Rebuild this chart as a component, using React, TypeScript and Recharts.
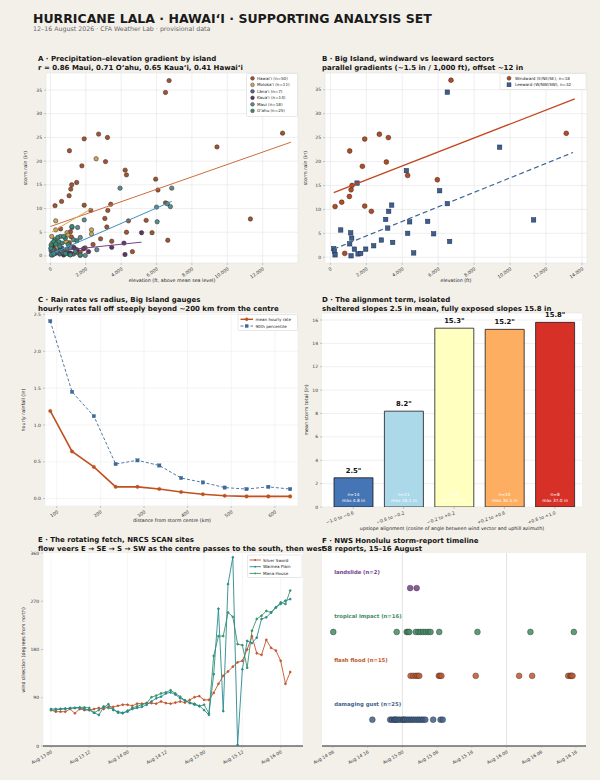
import React from 'react';
import {
  ScatterChart, Scatter, XAxis, YAxis, CartesianGrid, LineChart, Line,
  BarChart, Bar, Cell, LabelList, ReferenceLine,
} from 'recharts';

const FONT = '"DejaVu Sans", Verdana, sans-serif';
const BG = '#f3f0ea';
const PAD = 8; // extra room above each plot so top tick labels are not clipped

// ---------- Panel A / B : elevation vs storm rain ----------
const elevTicks = [0, 2000, 4000, 6000, 8000, 10000, 12000];
const elevTicksB = [0, 2000, 4000, 6000, 8000, 10000, 12000, 14000];
const rainTicks = [0, 5, 10, 15, 20, 25, 30, 35];

const windward = [
  { x: 260, y: 10.6 }, { x: 630, y: 11.5 }, { x: 1057, y: 12.7 }, { x: 1150, y: 14.1 },
  { x: 1205, y: 15.0 }, { x: 1075, y: 22.2 }, { x: 1780, y: 19.0 }, { x: 1910, y: 24.7 },
  { x: 1910, y: 10.7 }, { x: 2280, y: 9.6 }, { x: 2725, y: 25.7 }, { x: 3226, y: 25.0 },
  { x: 3115, y: 19.9 }, { x: 4300, y: 17.1 }, { x: 5951, y: 16.2 }, { x: 6711, y: 37.0 },
  { x: 13126, y: 25.9 }, { x: 797, y: 0.8 },
];
const leeward = [
  { x: 185, y: 1.8 }, { x: 222, y: 1.3 }, { x: 260, y: 0.5 }, { x: 575, y: 5.7 },
  { x: 1131, y: 5.1 }, { x: 1187, y: 4.0 }, { x: 1075, y: 2.8 }, { x: 1150, y: 0.3 },
  { x: 1335, y: 1.7 }, { x: 1483, y: 15.5 }, { x: 1539, y: 0.7 }, { x: 1687, y: 0.8 },
  { x: 1965, y: 1.7 }, { x: 2410, y: 2.4 }, { x: 2836, y: 3.6 }, { x: 3078, y: 7.9 },
  { x: 3189, y: 6.1 }, { x: 3245, y: 9.6 }, { x: 3411, y: 10.9 }, { x: 3467, y: 3.1 },
  { x: 4227, y: 18.1 }, { x: 4412, y: 7.4 }, { x: 4301, y: 5.0 }, { x: 4635, y: 0.9 },
  { x: 5414, y: 7.5 }, { x: 5747, y: 4.9 }, { x: 6081, y: 13.9 }, { x: 6507, y: 34.5 },
  { x: 6507, y: 11.2 }, { x: 6637, y: 3.3 }, { x: 9418, y: 23.0 }, { x: 11309, y: 7.8 },
];
const windFit = [{ x: 185, y: 13.5 }, { x: 13600, y: 33.1 }];
const leeFit = [{ x: 185, y: 1.7 }, { x: 13500, y: 21.9 }];

const hawaiiPts = [...windward, ...leeward];
const hawaiiFit = [{ x: 0, y: 6.2 }, { x: 13600, y: 24.0 }];
const molokaiPts = [
  { x: 300, y: 7.4 }, { x: 300, y: 5.5 }, { x: 2586, y: 20.5 }, { x: 2324, y: 5.5 },
  { x: 2324, y: 4.6 }, { x: 937, y: 4.9 }, { x: 993, y: 4.4 }, { x: 880, y: 3.0 },
  { x: 75, y: 4.1 }, { x: 375, y: 2.0 }, { x: 112, y: 2.7 },
];
const molokaiFit = [{ x: 94, y: 5.1 }, { x: 2343, y: 10.0 }];
const lanaiPts = [
  { x: 37, y: 1.1 }, { x: 112, y: 0.2 }, { x: 525, y: 0.4 }, { x: 656, y: 1.6 },
  { x: 337, y: 0.7 }, { x: 1031, y: 0.4 }, { x: 1312, y: 0.4 },
];
const kauaiPts = [
  { x: 5153, y: 4.9 }, { x: 4160, y: 2.7 }, { x: 4216, y: 0.3 }, { x: 3467, y: 1.8 },
  { x: 2155, y: 0.9 }, { x: 1874, y: 1.5 }, { x: 1312, y: 1.8 }, { x: 1124, y: 0.6 },
  { x: 187, y: 0.9 }, { x: 562, y: 1.3 }, { x: 750, y: 0.2 }, { x: 94, y: 2.0 },
  { x: 1500, y: 1.3 }, { x: 937, y: 0.9 },
];
const kauaiFit = [{ x: 0, y: 0.9 }, { x: 5150, y: 2.9 }];
const mauiPts = [
  { x: 3937, y: 14.3 }, { x: 6000, y: 10.3 }, { x: 6035, y: 7.2 }, { x: 6617, y: 11.0 },
  { x: 6786, y: 10.4 }, { x: 6860, y: 14.3 }, { x: 1218, y: 6.0 }, { x: 1537, y: 6.0 },
  { x: 1911, y: 7.6 }, { x: 1312, y: 3.4 }, { x: 1687, y: 3.9 }, { x: 1968, y: 0.1 },
  { x: 1687, y: 0.1 }, { x: 562, y: 4.1 }, { x: 187, y: 1.3 }, { x: 750, y: 0.6 },
  { x: 1124, y: 2.0 }, { x: 2624, y: 1.3 },
];
const mauiFit = [{ x: 37, y: 0.4 }, { x: 6860, y: 11.5 }];
const oahuPts = [
  { x: 1218, y: 6.2 }, { x: 243, y: 3.4 }, { x: 412, y: 3.9 }, { x: 187, y: 3.0 },
  { x: 656, y: 2.7 }, { x: 843, y: 3.7 }, { x: 37, y: 2.3 }, { x: 112, y: 1.3 },
  { x: 375, y: 0.9 }, { x: 525, y: 2.0 }, { x: 937, y: 1.4 }, { x: 1124, y: 0.2 },
  { x: 1405, y: 0.9 }, { x: 1687, y: 0.2 }, { x: 56, y: 0.2 }, { x: 187, y: 0.4 },
  { x: 712, y: 0.7 }, { x: 468, y: 3.0 }, { x: 750, y: 4.1 }, { x: 20, y: 1.6 },
  { x: 300, y: 2.5 }, { x: 600, y: 1.1 }, { x: 1000, y: 2.4 }, { x: 1500, y: 3.2 },
  { x: 850, y: 0.5 },
];

const islandNames = ['Hawaiʻi', 'Molokaʻi', 'Lānaʻi', 'Kauaʻi', 'Maui', 'Oʻahu'];
const islandPoints = [hawaiiPts, molokaiPts, lanaiPts, kauaiPts, mauiPts, oahuPts];
const islandColors = ['#a5532f', '#c9a45a', '#56648c', '#5c3566', '#5b8c8e', '#3b8a76'];
const islandFits = [hawaiiFit, molokaiFit, null, kauaiFit, mauiFit, null];
const fitColors = ['#cf6c3a', '#d9a552', '', '#7a3f8f', '#3f8fbf', ''];

// ---------- Panel C : rain rate vs radius ----------
const radiusKm = [85, 135, 185, 235, 285, 335, 385, 435, 485, 535, 585, 635];
const meanRate = [1.19, 0.64, 0.43, 0.16, 0.16, 0.13, 0.09, 0.06, 0.04, 0.03, 0.03, 0.03];
const p90Rate = [2.41, 1.45, 1.12, 0.47, 0.52, 0.45, 0.28, 0.22, 0.15, 0.13, 0.16, 0.13];
const radiusTicks = [100, 200, 300, 400, 500, 600];
const rateTicks = [0, 0.5, 1.0, 1.5, 2.0, 2.5];

// ---------- Panel D : alignment bins ----------
const alignBins = ['−1.0 to −0.6', '−0.6 to −0.2', '−0.2 to +0.2', '+0.2 to +0.6', '+0.6 to +1.0'];
const meanTotal = [2.5, 8.2, 15.3, 15.2, 15.8];
const binN = [14, 11, 9, 10, 8];
const binMax = [4.8, 16.1, 25.7, 34.5, 37.0];
const binColors = ['#4575b4', '#abd9e9', '#ffffbf', '#fdae61', '#d73027'];
const totalTicks = [0, 2, 4, 6, 8, 10, 12, 14, 16];

// ---------- Panel E : wind direction ----------
const eHours = [0, 1.5, 3, 4.5, 6, 7.5, 9, 10.5, 12, 13.5, 15, 16.5, 18, 19.5, 21, 22.5, 24, 25.5, 27,
  28.5, 30, 31.5, 33, 34.5, 36, 37.5, 39, 40.5, 42, 43.5, 45, 46.5, 48, 49.5, 51, 52.5, 54, 55.5,
  57, 58.5, 60, 61.5, 63, 64.5, 66, 67.5, 69, 70.5, 72, 73.5, 75];
const silverSword = [67, 64, 64, 64, 69, 61, 69, 67, 67, 69, 71, 69, 73, 73, 75, 77, 77, 75, 79, 79, 80,
  80, 79, 83, 80, 79, 81, 83, 81, 86, 91, 93, 86, 86, 99, 116, 131, 139, 148, 156, 159, 180, 205, 173,
  170, 198, 183, 178, 159, 116, 138];
const waimeaPlain = [69, 69, 69, 70, 70, 71, 71, 69, 67, 62, 58, 72, 78, 67, 64, 62, 64, 69, 71, 73, 77,
  83, 89, 92, 98, 100, 96, 89, 85, 80, 77, 75, 67, 58, 134, 256, 65, 302, 352, 2, 143, 196, 192, 202,
  237, 240, 249, 259, 265, 271, 274];
const manaHouse = [67, 67, 69, 69, 71, 71, 72, 72, 71, 62, 67, 74, 71, 69, 62, 61, 66, 71, 74, 77, 80,
  91, 94, 98, 100, 104, 98, 92, 85, 81, 79, 74, 77, 61, 168, 205, 205, 249, 241, 190, 188, 146, 215,
  237, 243, 252, 249, 258, 268, 265, 290];
const eTickHours = [0, 12, 24, 36, 48, 60, 72];
const eTickLabels = ['Aug 13 00', 'Aug 13 12', 'Aug 14 00', 'Aug 14 12', 'Aug 15 00', 'Aug 15 12', 'Aug 16 00'];
const dirTicks = [0, 90, 180, 270, 360];
const siteNames = ['Silver Sword', 'Waimea Plain', 'Mana House'];
const siteColors = ['#c4532b', '#2a8a8f', '#3a9467'];

// ---------- Panel F : storm reports (hours from 15 Aug 00:00) ----------
const landslideH = [1.8, 3.3];
const tropicalH = [-15.9, -1.3, 1.0, 1.3, 1.6, 3.1, 3.7, 4.2, 4.8, 5.4, 6.0, 6.5, 8.5, 17.3, 29.5, 39.5];
const flashFloodH = [1.9, 2.5, 3.1, 3.5, 3.9, 8.4, 8.7, 9.0, 16.9, 26.9, 29.9, 38.2, 38.7, 38.9, 39.2];
const gustH = [-6.9, -2.8, -2.4, -1.9, -1.7, -1.5, -1.1, -0.7, -0.2, 0.2, 0.4, 0.7, 1.2, 1.6, 2.1, 2.5,
  3.0, 3.5, 3.9, 4.4, 4.8, 5.3, 7.1, 8.8, 9.3];
const reportTypes = ['landslide', 'tropical impact', 'flash flood', 'damaging gust'];
const reportHours = [landslideH, tropicalH, flashFloodH, gustH];
const reportRows = [3, 2, 1, 0];
const reportColors = ['#74408a', '#428c64', '#c0562a', '#3d5f8c'];
const fTickHours = [-16, -8, 0, 8, 16, 24, 32, 40];
const fTickLabels = ['Aug 14 08', 'Aug 14 16', 'Aug 15 00', 'Aug 15 08', 'Aug 15 16', 'Aug 16 00', 'Aug 16 08', 'Aug 16 16'];
const fGridHours = [0, 24];

// ---------- helpers ----------
const tickText = { fontSize: 4.5, fill: '#333', fontFamily: FONT };
const tickLineStyle = { stroke: '#999', strokeWidth: 0.5 };
const fmtThousands = (v: number) => v.toLocaleString('en-US');
const fmtRate = (v: number) => v.toFixed(1);
const noShape = () => <g />;

const dotShape = (fill: string, stroke: string, r: number) => (p: any) => (
  <circle cx={p.cx} cy={p.cy} r={r} fill={fill} stroke={stroke} strokeWidth={0.5} />
);
const squareShape = (fill: string, stroke: string, s: number) => (p: any) => (
  <rect x={p.cx - s / 2} y={p.cy - s / 2} width={s} height={s} fill={fill} stroke={stroke} strokeWidth={0.5} />
);

function PanelA() {
  return (
    <div style={{ position: 'absolute', left: 20, top: 73 - PAD }}>
      <ScatterChart width={285} height={212 + PAD} margin={{ top: PAD, right: 7, bottom: 0, left: 0 }}>
        <CartesianGrid stroke="#e4e4e4" strokeWidth={0.6} fill="#ffffff" />
        <XAxis type="number" dataKey="x" domain={[-250, 14000]} ticks={elevTicks} interval={0}
          tickFormatter={fmtThousands} height={22} tickSize={2} axisLine={false} tickLine={tickLineStyle}
          tick={{ ...tickText, angle: -35, textAnchor: 'end' }} allowDataOverflow />
        <YAxis type="number" dataKey="y" domain={[-1.5, 38.6]} ticks={rainTicks} interval={0} width={26}
          tickSize={2} axisLine={false} tickLine={tickLineStyle} tick={tickText} allowDataOverflow />
        {islandPoints.map((pts, i) => (
          <Scatter key={islandNames[i]} data={pts} isAnimationActive={false}
            shape={dotShape(islandColors[i], '#2a2a2a', 2.2)} />
        ))}
        {islandFits.map((fit, i) => fit ? (
          <Scatter key={'fit' + i} data={fit} isAnimationActive={false} shape={noShape}
            line={{ stroke: fitColors[i], strokeWidth: 1 }} legendType="none" />
        ) : null)}
      </ScatterChart>
    </div>
  );
}

function PanelB() {
  return (
    <div style={{ position: 'absolute', left: 300, top: 73 - PAD }}>
      <ScatterChart width={292} height={212 + PAD} margin={{ top: PAD, right: 5, bottom: 0, left: 0 }}>
        <CartesianGrid stroke="#e4e4e4" strokeWidth={0.6} fill="#ffffff" />
        <XAxis type="number" dataKey="x" domain={[-300, 14280]} ticks={elevTicksB} interval={0}
          tickFormatter={fmtThousands} height={22} tickSize={2} axisLine={false} tickLine={tickLineStyle}
          tick={{ ...tickText, angle: -35, textAnchor: 'end' }} allowDataOverflow />
        <YAxis type="number" dataKey="y" domain={[-1.2, 38.5]} ticks={rainTicks} interval={0} width={25}
          tickSize={2} axisLine={false} tickLine={tickLineStyle} tick={tickText} allowDataOverflow />
        <Scatter data={leeward} isAnimationActive={false} shape={squareShape('#3e5f8e', '#1c2c48', 4.4)} />
        <Scatter data={windward} isAnimationActive={false} shape={dotShape('#b04d28', '#3a1a0c', 2.4)} />
        <Scatter data={windFit} isAnimationActive={false} shape={noShape}
          line={{ stroke: '#c2461f', strokeWidth: 1.3 }} legendType="none" />
        <Scatter data={leeFit} isAnimationActive={false} shape={noShape}
          line={{ stroke: '#3e6594', strokeWidth: 1.2, strokeDasharray: '5 3' }} legendType="none" />
      </ScatterChart>
    </div>
  );
}

const cRows = radiusKm.map((d, i) => ({ d, mean: meanRate[i], p90: p90Rate[i] }));

function PanelC() {
  const sq = (p: any) => (
    <rect key={'sq' + p.index} x={p.cx - 1.7} y={p.cy - 1.7} width={3.4} height={3.4}
      fill="#3d6a9a" stroke="#3d6a9a" strokeWidth={0.3} />
  );
  return (
    <div style={{ position: 'absolute', left: 20, top: 313 - PAD }}>
      <LineChart width={285} height={211 + PAD} data={cRows} margin={{ top: PAD, right: 7, bottom: 0, left: 0 }}>
        <CartesianGrid stroke="#ececec" strokeWidth={0.6} fill="#ffffff" />
        <XAxis type="number" dataKey="d" domain={[73, 653]} ticks={radiusTicks} interval={0} height={18}
          tickSize={2} axisLine={false} tickLine={tickLineStyle}
          tick={{ ...tickText, angle: -35, textAnchor: 'end' }} allowDataOverflow />
        <YAxis type="number" domain={[-0.1, 2.52]} ticks={rateTicks} interval={0} width={25}
          tickFormatter={fmtRate} tickSize={2} axisLine={false} tickLine={tickLineStyle} tick={tickText}
          allowDataOverflow />
        <Line dataKey="p90" stroke="#3d6a9a" strokeWidth={0.9} strokeDasharray="3 2" dot={sq}
          isAnimationActive={false} />
        <Line dataKey="mean" stroke="#c0501f" strokeWidth={1.6}
          dot={{ r: 1.8, fill: '#c0501f', stroke: '#c0501f', strokeWidth: 0.3 }} isAnimationActive={false} />
      </LineChart>
    </div>
  );
}

const dRows = alignBins.map((bin, i) => ({ bin, mean: meanTotal[i], n: binN[i], max: binMax[i] }));

function PanelD() {
  const inner = (p: any) => {
    const row = dRows[p.index];
    const cx = p.x + p.width / 2;
    const bottom = p.y + p.height;
    return (
      <g>
        <text x={cx} y={bottom - 11} textAnchor="middle" fontSize={4.3} fill="#ffffff" fontFamily={FONT}>
          {'n=' + row.n}
        </text>
        <text x={cx} y={bottom - 5} textAnchor="middle" fontSize={4.3} fill="#ffffff" fontFamily={FONT}>
          {'max ' + row.max.toFixed(1) + ' in'}
        </text>
      </g>
    );
  };
  return (
    <div style={{ position: 'absolute', left: 300, top: 313 - PAD }}>
      <BarChart width={287} height={220 + PAD} data={dRows} margin={{ top: PAD, right: 5, bottom: 0, left: 0 }}>
        <CartesianGrid stroke="#e4e4e4" strokeWidth={0.6} vertical={false} fill="#ffffff" />
        <XAxis dataKey="bin" interval={0} height={26} tickSize={2} axisLine={false} tickLine={tickLineStyle}
          padding={{ left: 6, right: 2 }} tick={{ ...tickText, angle: -20, textAnchor: 'end' }} />
        <YAxis type="number" domain={[0, 16.6]} ticks={totalTicks} interval={0} width={22} tickSize={2}
          axisLine={false} tickLine={tickLineStyle} tick={tickText} allowDataOverflow />
        <Bar dataKey="mean" barSize={39} stroke="#1a1a1a" strokeWidth={0.8} isAnimationActive={false}>
          {dRows.map((r, i) => <Cell key={r.bin} fill={binColors[i]} />)}
          <LabelList dataKey="mean" position="top" offset={5}
            formatter={(v: any) => Number(v).toFixed(1) + '"'}
            style={{ fontSize: 6.8, fontWeight: 'bold', fill: '#111', fontFamily: FONT }} />
          <LabelList dataKey="mean" content={inner} />
        </Bar>
      </BarChart>
    </div>
  );
}

const eRows = eHours.map((t, i) => ({ t, silver: silverSword[i], waimea: waimeaPlain[i], mana: manaHouse[i] }));

function PanelE() {
  const fmt = (v: number) => eTickLabels[eTickHours.indexOf(v)] ?? '';
  return (
    <div style={{ position: 'absolute', left: 15, top: 553 - PAD }}>
      <LineChart width={293} height={213 + PAD} data={eRows} margin={{ top: PAD, right: 5, bottom: 0, left: 0 }}>
        <CartesianGrid stroke="#f0f0f0" strokeWidth={0.6} horizontal={false} fill="#ffffff" />
        <XAxis type="number" dataKey="t" domain={[-2.5, 79]} ticks={eTickHours} interval={0} height={20}
          tickFormatter={fmt} tickSize={2} axisLine={{ stroke: '#222', strokeWidth: 1 }}
          tickLine={tickLineStyle} tick={{ ...tickText, angle: -30, textAnchor: 'end' }} allowDataOverflow />
        <YAxis type="number" domain={[0, 360]} ticks={dirTicks} interval={0} width={28} tickSize={2}
          axisLine={false} tickLine={tickLineStyle} tick={tickText} allowDataOverflow />
        <Line dataKey="silver" stroke={siteColors[0]} strokeWidth={0.9}
          dot={{ r: 0.9, fill: siteColors[0], stroke: siteColors[0] }} isAnimationActive={false} />
        <Line dataKey="mana" stroke={siteColors[2]} strokeWidth={0.9}
          dot={{ r: 0.9, fill: siteColors[2], stroke: siteColors[2] }} isAnimationActive={false} />
        <Line dataKey="waimea" stroke={siteColors[1]} strokeWidth={0.9}
          dot={{ r: 0.9, fill: siteColors[1], stroke: siteColors[1] }} isAnimationActive={false} />
      </LineChart>
    </div>
  );
}

function PanelF() {
  const fmt = (v: number) => fTickLabels[fTickHours.indexOf(v)] ?? '';
  const labelData = reportTypes.map((name, i) => ({
    x: -15.7, y: reportRows[i] + 0.32, text: `${name}  (n=${reportHours[i].length})`, color: reportColors[i],
  }));
  const labelShape = (p: any) => (
    <text x={p.cx} y={p.cy} fontSize={5.3} fontWeight="bold" fill={p.payload.color} fontFamily={FONT}>
      {p.payload.text}
    </text>
  );
  return (
    <div style={{ position: 'absolute', left: 310, top: 553 - PAD }}>
      <ScatterChart width={281} height={213 + PAD} margin={{ top: PAD, right: 5, bottom: 0, left: 12 }}>
        <CartesianGrid stroke="none" fill="#ffffff" horizontal={false} vertical={false} />
        <XAxis type="number" dataKey="x" domain={[-18.5, 42.3]} ticks={fTickHours} interval={0} height={20}
          tickFormatter={fmt} tickSize={2} axisLine={{ stroke: '#222', strokeWidth: 1 }}
          tickLine={tickLineStyle} tick={{ ...tickText, angle: -30, textAnchor: 'end' }} allowDataOverflow />
        <YAxis type="number" dataKey="y" domain={[-0.6, 3.8]} hide allowDataOverflow />
        {fGridHours.map((h) => (
          <ReferenceLine key={h} x={h} stroke="#dcdcdc" strokeWidth={0.8} />
        ))}
        {reportHours.map((hrs, i) => (
          <Scatter key={reportTypes[i]} data={hrs.map((x) => ({ x, y: reportRows[i] }))}
            isAnimationActive={false}
            shape={(p: any) => (
              <circle cx={p.cx} cy={p.cy} r={2.9} fill={reportColors[i]} fillOpacity={0.85}
                stroke="#2a2a2a" strokeWidth={0.4} />
            )} />
        ))}
        <Scatter data={labelData} isAnimationActive={false} shape={labelShape} />
      </ScatterChart>
    </div>
  );
}

function Overlay() {
  const t = (x: number, y: number, s: string, size: number, bold = false, fill = '#151515') => (
    <text x={x} y={y} fontSize={size} fontWeight={bold ? 'bold' : 'normal'} fill={fill} fontFamily={FONT}>{s}</text>
  );
  const vlabel = (x: number, y: number, s: string) => (
    <text x={x} y={y} fontSize={4.8} fill="#222" fontFamily={FONT} textAnchor="middle"
      transform={`rotate(-90 ${x} ${y})`}>{s}</text>
  );
  const hlabel = (x: number, y: number, s: string) => (
    <text x={x} y={y} fontSize={4.8} fill="#222" fontFamily={FONT} textAnchor="middle">{s}</text>
  );
  const legendA = islandNames.map((n, i) => `${n} (n=${islandPoints[i].length})`);
  return (
    <svg width={600} height={780} style={{ position: 'absolute', left: 0, top: 0, pointerEvents: 'none' }}>
      {t(33, 22.5, 'HURRICANE LALA · HAWAIʻI · SUPPORTING ANALYSIS SET', 12.5, true, '#1a1a1a')}
      {t(33, 30.5, '12–16 August 2026 · CFA Weather Lab · provisional data', 6.3, false, '#666')}

      {t(38, 61, 'A · Precipitation–elevation gradient by island', 7, true)}
      {t(38, 70, 'r = 0.86 Maui, 0.71 Oʻahu, 0.65 Kauaʻi, 0.41 Hawaiʻi', 7, true)}
      {vlabel(27, 168, 'storm rain (in)')}
      {hlabel(172, 282, 'elevation (ft, above mean sea level)')}

      {t(322, 61, 'B · Big Island, windward vs leeward sectors', 7, true)}
      {t(322, 70, 'parallel gradients (~1.5 in / 1,000 ft), offset ~12 in', 7, true)}
      {vlabel(307, 168, 'storm rain (in)')}
      {hlabel(456, 282, 'elevation (ft)')}

      {t(38, 301.5, 'C · Rain rate vs radius, Big Island gauges', 7, true)}
      {t(38, 310.5, 'hourly rates fall off steeply beyond ~200 km from the centre', 7, true)}
      {vlabel(25, 410, 'hourly rainfall (in)')}
      {hlabel(172, 522, 'distance from storm centre (km)')}

      {t(322, 301.5, 'D · The alignment term, isolated', 7, true)}
      {t(322, 310.5, 'sheltered slopes 2.5 in mean, fully exposed slopes 15.8 in', 7, true)}
      {vlabel(308, 410, 'mean storm total (in)')}
      {hlabel(452, 530, 'upslope alignment (cosine of angle between wind vector and uphill azimuth)')}

      {t(38, 541.5, 'E · The rotating fetch, NRCS SCAN sites', 7, true)}
      {t(38, 550.5, 'flow veers E → SE → S → SW as the centre passes to the south, then west', 7, true)}
      {vlabel(25, 650, 'wind direction (degrees from north)')}

      {t(322, 542.5, 'F · NWS Honolulu storm-report timeline', 7, true)}
      {t(322.5, 550.5, `${reportHours.reduce((a, h) => a + h.length, 0)} reports, 15–16 August`, 7, true)}

      {/* Legend A */}
      <rect x={246.5} y={73.5} width={51} height={43} fill="#fff" stroke="#d0d0d0" strokeWidth={0.5} rx={1} />
      {legendA.map((s, i) => (
        <g key={s}>
          <circle cx={252.5} cy={78.3 + i * 6.5} r={1.9} fill={islandColors[i]} stroke="#2a2a2a" strokeWidth={0.4} />
          <text x={257} y={79.8 + i * 6.5} fontSize={4.1} fill="#222" fontFamily={FONT}>{s}</text>
        </g>
      ))}

      {/* Legend B */}
      <rect x={500} y={73.5} width={86} height={16} fill="#fff" stroke="#d0d0d0" strokeWidth={0.5} rx={1} />
      <circle cx={509} cy={78.3} r={2} fill="#b04d28" stroke="#3a1a0c" strokeWidth={0.4} />
      <text x={515} y={79.8} fontSize={4.1} fill="#222" fontFamily={FONT}>{`Windward (E/NE/SE), n=${windward.length}`}</text>
      <rect x={507} y={82.8} width={4} height={4} fill="#3e5f8e" stroke="#1c2c48" strokeWidth={0.4} />
      <text x={515} y={86.3} fontSize={4.1} fill="#222" fontFamily={FONT}>{`Leeward (W/NW/SW), n=${leeward.length}`}</text>

      {/* Legend C */}
      <rect x={238} y={314.5} width={59.5} height={16} fill="#fff" stroke="#d0d0d0" strokeWidth={0.5} rx={1} />
      <line x1={240.5} y1={319.3} x2={253} y2={319.3} stroke="#c0501f" strokeWidth={1.4} />
      <circle cx={246.7} cy={319.3} r={1.7} fill="#c0501f" />
      <text x={255.5} y={320.8} fontSize={4.1} fill="#222" fontFamily={FONT}>mean hourly rate</text>
      <line x1={240.5} y1={326} x2={253} y2={326} stroke="#3d6a9a" strokeWidth={0.9} strokeDasharray="3 2" />
      <rect x={245} y={324.3} width={3.4} height={3.4} fill="#3d6a9a" />
      <text x={255.5} y={327.5} fontSize={4.1} fill="#222" fontFamily={FONT}>90th percentile</text>

      {/* Legend E */}
      <rect x={247.5} y={555} width={54.5} height={22.5} fill="#fff" stroke="#d0d0d0" strokeWidth={0.5} rx={1} />
      {siteNames.map((s, i) => (
        <g key={s}>
          <line x1={249.5} y1={560 + i * 6.7} x2={261} y2={560 + i * 6.7} stroke={siteColors[i]} strokeWidth={0.9} />
          <circle cx={255.2} cy={560 + i * 6.7} r={0.9} fill={siteColors[i]} />
          <text x={263} y={561.5 + i * 6.7} fontSize={4.1} fill="#222" fontFamily={FONT}>{s}</text>
        </g>
      ))}
    </svg>
  );
}

export default function App() {
  return (
    <div style={{ position: 'absolute', left: 0, top: 0, width: 600, height: 780, background: BG, fontFamily: FONT, overflow: 'hidden' }}>
      <PanelA />
      <PanelB />
      <PanelC />
      <PanelD />
      <PanelE />
      <PanelF />
      <Overlay />
    </div>
  );
}
